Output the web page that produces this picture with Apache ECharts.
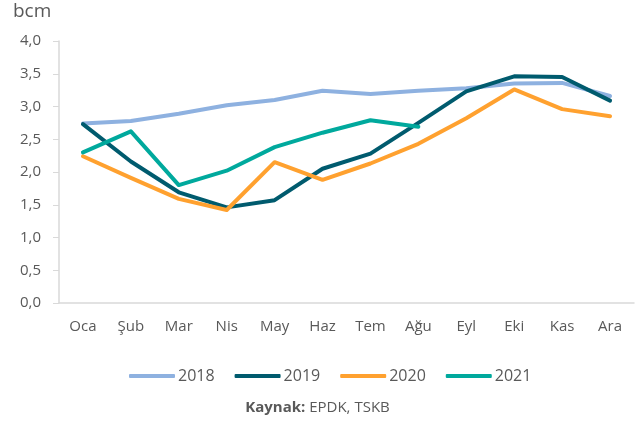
<!DOCTYPE html>
<html>
<head>
<meta charset="utf-8">
<script src="https://cdn.jsdelivr.net/npm/echarts@6/dist/echarts.min.js"></script>
<style>
  html, body { margin: 0; padding: 0; background: #fff; }
  #chart { width: 635px; height: 425px; }
</style>
</head>
<body>
<div id="chart"></div>
<script>
// aylar ve yillik seriler (bcm)
var months = ['Oca', 'Şub', 'Mar', 'Nis', 'May', 'Haz', 'Tem', 'Ağu', 'Eyl', 'Eki', 'Kas', 'Ara'];
var years = ['2018', '2019', '2020', '2021'];
var s2018 = [2.74, 2.78, 2.89, 3.02, 3.10, 3.24, 3.19, 3.24, 3.28, 3.35, 3.36, 3.16];
var s2019 = [2.73, 2.16, 1.69, 1.46, 1.57, 2.05, 2.28, 2.75, 3.23, 3.46, 3.45, 3.09];
var s2020 = [2.24, 1.91, 1.59, 1.42, 2.15, 1.88, 2.13, 2.43, 2.82, 3.26, 2.96, 2.85];
var s2021 = [2.30, 2.62, 1.80, 2.02, 2.38, 2.60, 2.79, 2.69];
var colors = ['#8EB1E0', '#005B6E', '#FFA12F', '#00A99D'];

var chart = echarts.init(document.getElementById('chart'));

function line(name, data, color) {
    return {
        name: name,
        type: 'line',
        data: data,
        symbol: 'none',
        smooth: false,
        lineStyle: { width: 4, color: color, cap: 'round', join: 'round' },
        itemStyle: { color: color }
    };
}

var option = {
    animation: false,
    color: colors,
    textStyle: { fontFamily: 'Open Sans' },
    graphic: [
        {
            type: 'text', left: 13, top: 2,
            style: { text: 'bcm', font: '19px "Open Sans"', fill: '#595959' }
        },
        {
            type: 'text', left: 'center', top: 400,
            style: {
                text: '{b|Kaynak:} EPDK, TSKB',
                rich: {
                    b: { fontWeight: 'bold', fontSize: 15, fontFamily: 'Open Sans', fill: '#595959' }
                },
                font: '15px "Open Sans"',
                fill: '#595959'
            }
        }
    ],
    legend: {
        data: years,
        top: 363,
        left: 124,
        itemWidth: 46,
        itemHeight: 4,
        itemGap: 20,
        icon: 'roundRect',
        textStyle: { fontSize: 16, color: '#595959', padding: [0, 0, 0, -2] }
    },
    grid: { left: 59, top: 41, width: 575, height: 262 },
    xAxis: {
        type: 'category',
        data: months,
        boundaryGap: true,
        axisLine: { lineStyle: { color: '#d9d9d9', width: 1.5 } },
        axisTick: { show: false },
        axisLabel: { color: '#595959', fontSize: 15, margin: 16 }
    },
    yAxis: {
        type: 'value',
        min: 0,
        max: 4,
        interval: 0.5,
        axisLine: { show: true, lineStyle: { color: '#d9d9d9', width: 1.5 } },
        axisTick: { show: true, length: 6, lineStyle: { color: '#d9d9d9' } },
        splitLine: { show: false },
        axisLabel: {
            color: '#595959',
            fontSize: 15,
            margin: 18,
            formatter: function (v) { return v.toFixed(1).replace('.', ','); }
        }
    },
    series: [
        line('2018', s2018, colors[0]),
        line('2019', s2019, colors[1]),
        line('2020', s2020, colors[2]),
        line('2021', s2021, colors[3])
    ]
};

chart.setOption(option);
</script>
</body>
</html>
